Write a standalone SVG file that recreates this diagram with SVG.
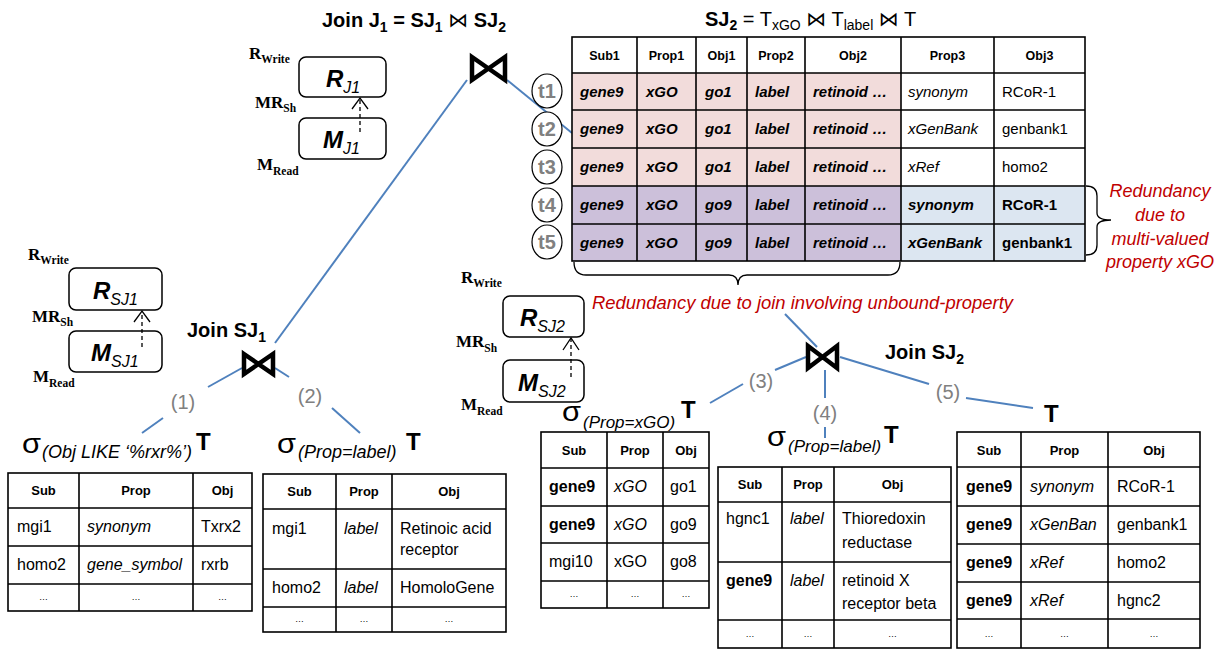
<svg xmlns="http://www.w3.org/2000/svg" width="1222" height="649" viewBox="0 0 1222 649">
<style>
text{font-family:"Liberation Sans",Arial,sans-serif;fill:#000}
.tb{fill:none;stroke:#000;stroke-width:1.6}
.h{font-weight:bold;font-size:12.5px;text-anchor:middle}
.h13{font-weight:bold;font-size:13px;text-anchor:middle}
.bi{font-weight:bold;font-style:italic;font-size:15px}
.c{font-size:15px}
.cs{font-size:16px}
.i{font-style:italic}
.b{font-weight:bold}
.dots{font-size:9px;text-anchor:middle}
.conn{stroke:#4F81BD;stroke-width:2;fill:none}
.bow{fill:none;stroke:#000;stroke-width:4.5;stroke-linejoin:miter}
.num{font-size:20px;fill:#808080;text-anchor:middle}
.red{fill:#C00000;font-style:italic;font-size:18px}
.box{fill:#fff;stroke:#000;stroke-width:1.5}
.tms{font-family:"Liberation Serif","Times New Roman",serif;font-weight:bold;font-size:17px}
.rm{font-weight:bold;font-style:italic;font-size:24px}
.rms{font-style:italic;font-size:16px}
.dash{stroke:#000;stroke-width:1.3;stroke-dasharray:4,3;fill:none}
.head{stroke:#000;stroke-width:1.3;fill:none}
.circ{fill:#fff;stroke:#000;stroke-width:1.2}
.tl{font-weight:bold;font-size:20px;fill:#808080;text-anchor:middle}
.ttl{font-weight:bold;font-size:20px}
.sig{font-size:28px}
.sub{font-style:italic;font-size:18px}
.sub17{font-style:italic;font-size:17px}
.T{font-weight:bold;font-size:24px}
</style>

<g id="connectors">
<line class="conn" x1="467" y1="80" x2="275" y2="343"/>
<line class="conn" x1="507" y1="80" x2="572" y2="133"/>
<line class="conn" x1="242" y1="368" x2="208" y2="387"/>
<line class="conn" x1="163" y1="418" x2="142" y2="433"/>
<line class="conn" x1="275" y1="368" x2="289" y2="377"/>
<line class="conn" x1="332" y1="408" x2="360" y2="433"/>
<line class="conn" x1="785" y1="314" x2="817" y2="347"/>
<line class="conn" x1="806" y1="357" x2="775" y2="370"/>
<line class="conn" x1="743" y1="384" x2="710" y2="403"/>
<line class="conn" x1="825" y1="370" x2="825" y2="398"/>
<line class="conn" x1="825" y1="427" x2="825" y2="438"/>
<line class="conn" x1="840" y1="357" x2="929" y2="384"/>
<line class="conn" x1="966" y1="398" x2="1033" y2="408"/>
<text class="num" x="183" y="409">(1)</text>
<text class="num" x="310" y="403">(2)</text>
<text class="num" x="761" y="388">(3)</text>
<text class="num" x="825" y="420">(4)</text>
<text class="num" x="948" y="399">(5)</text>
</g>

<g id="title-j1">
<text class="ttl" x="322" y="27">Join J<tspan dy="5" font-size="14">1</tspan><tspan dy="-5"> = SJ</tspan><tspan dy="5" font-size="14">1</tspan><tspan dy="-5"> </tspan><tspan font-family="DejaVu Sans" font-weight="normal">⋈</tspan><tspan> SJ</tspan><tspan dy="5" font-size="14">2</tspan></text>
</g>

<g id="join-j1">
<path class="bow" d="M472,57 L505,80 L505,57 L472,80 Z"/>
</g>

<g id="mem-j1">
<text class="tms" x="249" y="59">R<tspan dy="4" font-size="11.5px">Write</tspan></text>
<text class="tms" x="255" y="108">MR<tspan dy="4" font-size="11.5px">Sh</tspan></text>
<text class="tms" x="257" y="170">M<tspan dy="5" font-size="11.5px">Read</tspan></text>
<rect class="box" x="299" y="57" width="87" height="40" rx="7"/>
<rect class="box" x="299" y="118" width="87" height="41" rx="7"/>
<text x="326" y="87"><tspan class="rm">R</tspan><tspan class="rms" dy="6">J1</tspan></text>
<text x="323" y="148"><tspan class="rm">M</tspan><tspan class="rms" dy="6">J1</tspan></text>
<line class="dash" x1="360" y1="132" x2="360" y2="99"/>
<polyline class="head" points="352,109 360,98 368,109"/>
</g>

<g id="sj2-title">
<text x="705" y="26" font-size="20px"><tspan font-weight="bold">SJ</tspan><tspan font-weight="bold" dy="4" font-size="14px">2</tspan><tspan dy="-4"> = T</tspan><tspan dy="4" font-size="14px">xGO</tspan><tspan dy="-4"> </tspan><tspan font-family="DejaVu Sans">⋈</tspan><tspan> T</tspan><tspan dy="4" font-size="14px">label</tspan><tspan dy="-4"> </tspan><tspan font-family="DejaVu Sans">⋈</tspan><tspan> T</tspan></text>
</g>

<g id="sj2-table">
<rect x="572" y="73" width="329" height="113" fill="#F2DCDB"/>
<rect x="572" y="186" width="329" height="75" fill="#CCC0DA"/>
<rect x="901" y="186" width="184" height="75" fill="#DCE6F1"/>
<rect class="tb" x="572" y="37" width="513" height="224"/>
<path class="tb" d="M637,37V261M696,37V261M747,37V261M805,37V261M901,37V261M994,37V261M572,73H1085M572,110H1085M572,148H1085M572,186H1085M572,224H1085"/>
<text class="h" x="604.5" y="60">Sub1</text>
<text class="h" x="666.5" y="60">Prop1</text>
<text class="h" x="721.5" y="60">Obj1</text>
<text class="h" x="776" y="60">Prop2</text>
<text class="h" x="853" y="60">Obj2</text>
<text class="h" x="947.5" y="60">Prop3</text>
<text class="h" x="1039.5" y="60">Obj3</text>
<g class="bi">
<text x="580" y="97">gene9</text><text x="646" y="97">xGO</text><text x="705" y="97">go1</text><text x="755" y="97">label</text><text x="813" y="97">retinoid …</text>
<text x="580" y="134">gene9</text><text x="646" y="134">xGO</text><text x="705" y="134">go1</text><text x="755" y="134">label</text><text x="813" y="134">retinoid …</text>
<text x="580" y="172">gene9</text><text x="646" y="172">xGO</text><text x="705" y="172">go1</text><text x="755" y="172">label</text><text x="813" y="172">retinoid …</text>
<text x="580" y="210">gene9</text><text x="646" y="210">xGO</text><text x="705" y="210">go9</text><text x="755" y="210">label</text><text x="813" y="210">retinoid …</text>
<text x="580" y="248">gene9</text><text x="646" y="248">xGO</text><text x="705" y="248">go9</text><text x="755" y="248">label</text><text x="813" y="248">retinoid …</text>
<text x="908" y="210">synonym</text><text x="908" y="248">xGenBank</text>
</g>
<text class="c i" x="908" y="97">synonym</text><text class="c" x="1002" y="97">RCoR-1</text>
<text class="c i" x="908" y="134">xGenBank</text><text class="c" x="1002" y="134">genbank1</text>
<text class="c i" x="908" y="172">xRef</text><text class="c" x="1002" y="172">homo2</text>
<text class="c b" x="1002" y="210">RCoR-1</text>
<text class="c b" x="1002" y="248">genbank1</text>
<ellipse class="circ" cx="547" cy="91" rx="15" ry="17"/><text class="tl" x="547" y="98">t1</text>
<ellipse class="circ" cx="547" cy="129" rx="15" ry="17"/><text class="tl" x="547" y="136">t2</text>
<ellipse class="circ" cx="547" cy="167" rx="15" ry="17"/><text class="tl" x="547" y="174">t3</text>
<ellipse class="circ" cx="547" cy="205" rx="15" ry="17"/><text class="tl" x="547" y="212">t4</text>
<ellipse class="circ" cx="547" cy="242" rx="15" ry="17"/><text class="tl" x="547" y="249">t5</text>
</g>

<g id="redundancy-xgo">
<path class="head" d="M1086,186 Q1097,186 1097,196 L1097,213 Q1097,220 1111,220 Q1097,220 1097,227 L1097,245 Q1097,255 1086,255"/>
<text class="red" x="1160" y="197" text-anchor="middle">Redundancy</text>
<text class="red" x="1160" y="221" text-anchor="middle">due to</text>
<text class="red" x="1160" y="245" text-anchor="middle">multi-valued</text>
<text class="red" x="1160" y="268" text-anchor="middle">property xGO</text>
</g>

<g id="redundancy-join">
<path class="head" d="M574,262 Q574,275 586,275 L729,275 Q738,275 738,285 Q738,275 747,275 L888,275 Q900,275 900,262"/>
<text class="red" x="592" y="309" textLength="421" lengthAdjust="spacingAndGlyphs">Redundancy due to join involving unbound-property</text>
</g>

<g id="mem-sj1">
<text class="tms" x="28" y="260">R<tspan dy="4" font-size="11.5px">Write</tspan></text>
<text class="tms" x="32" y="322">MR<tspan dy="4" font-size="11.5px">Sh</tspan></text>
<text class="tms" x="33" y="382">M<tspan dy="5" font-size="11.5px">Read</tspan></text>
<rect class="box" x="69" y="268" width="93" height="42" rx="7"/>
<rect class="box" x="69" y="331" width="93" height="41" rx="7"/>
<text x="93" y="299"><tspan class="rm">R</tspan><tspan class="rms" dy="6">SJ1</tspan></text>
<text x="91" y="361"><tspan class="rm">M</tspan><tspan class="rms" dy="6">SJ1</tspan></text>
<line class="dash" x1="142" y1="347" x2="142" y2="312"/>
<polyline class="head" points="134,322 142,311 150,322"/>
</g>

<g id="join-sj1">
<text class="ttl" x="187" y="337">Join SJ<tspan dy="5" font-size="14">1</tspan></text>
<path class="bow" d="M244,354 L273,374 L273,354 L244,374 Z"/>
</g>

<g id="mem-sj2">
<text class="tms" x="461" y="283">R<tspan dy="4" font-size="11.5px">Write</tspan></text>
<text class="tms" x="456" y="347">MR<tspan dy="5" font-size="11.5px">Sh</tspan></text>
<text class="tms" x="461" y="410">M<tspan dy="5" font-size="11.5px">Read</tspan></text>
<rect class="box" x="503" y="296" width="81" height="41" rx="7"/>
<rect class="box" x="503" y="360" width="81" height="42" rx="7"/>
<text x="520" y="326"><tspan class="rm">R</tspan><tspan class="rms" dy="6">SJ2</tspan></text>
<text x="518" y="391"><tspan class="rm">M</tspan><tspan class="rms" dy="6">SJ2</tspan></text>
<line class="dash" x1="571" y1="377" x2="571" y2="339"/>
<polyline class="head" points="563,350 571,338 579,350"/>
</g>

<g id="join-sj2">
<path class="bow" d="M808,346 L837,368 L837,346 L808,368 Z"/>
<text class="ttl" x="885" y="359">Join SJ<tspan dy="5" font-size="14">2</tspan></text>
</g>

<g id="sel-rxr">
<text class="sig" x="22" y="453" textLength="19" lengthAdjust="spacingAndGlyphs">σ</text>
<text class="sub" x="42" y="458">(Obj LIKE ‘%rxr%’)</text>
<text class="T" x="196" y="450">T</text>
<rect class="tb" x="8" y="473" width="244" height="138"/>
<path class="tb" d="M79,473V611M193,473V611M8,508H252M8,546H252M8,584H252"/>
<text class="h13" x="43.5" y="495">Sub</text><text class="h13" x="136" y="495">Prop</text><text class="h13" x="222.5" y="495">Obj</text>
<text class="cs" x="17" y="532">mgi1</text><text class="cs i" x="87" y="532">synonym</text><text class="cs" x="201" y="532">Txrx2</text>
<text class="cs" x="17" y="570">homo2</text><text class="cs i" x="87" y="570">gene_symbol</text><text class="cs" x="201" y="570">rxrb</text>
<text class="dots" x="43.5" y="600">…</text><text class="dots" x="136" y="600">…</text><text class="dots" x="222.5" y="600">…</text>
</g>

<g id="sel-label1">
<text class="sig" x="277" y="453" textLength="19" lengthAdjust="spacingAndGlyphs">σ</text>
<text class="sub" x="298" y="458">(Prop=label)</text>
<text class="T" x="406" y="450">T</text>
<rect class="tb" x="263" y="474" width="243" height="158"/>
<path class="tb" d="M336,474V632M392,474V632M263,509H506M263,569H506M263,607H506"/>
<text class="h13" x="299.5" y="496">Sub</text><text class="h13" x="364" y="496">Prop</text><text class="h13" x="449" y="496">Obj</text>
<text class="cs" x="272" y="534">mgi1</text><text class="cs i" x="344" y="534">label</text><text class="cs" x="400" y="534">Retinoic acid</text><text class="cs" x="400" y="555">receptor</text>
<text class="cs" x="272" y="593">homo2</text><text class="cs i" x="344" y="593">label</text><text class="cs" x="400" y="593">HomoloGene</text>
<text class="dots" x="299.5" y="622">…</text><text class="dots" x="364" y="622">…</text><text class="dots" x="449" y="622">…</text>
</g>

<g id="sel-xgo">
<text class="sig" x="562" y="421" textLength="19" lengthAdjust="spacingAndGlyphs">σ</text>
<text class="sub17" x="583" y="428">(Prop=xGO)</text>
<text class="T" x="681" y="418">T</text>
<rect class="tb" x="541" y="432" width="168" height="176"/>
<path class="tb" d="M607,432V608M663,432V608M541,468H709M541,506H709M541,543H709M541,581H709"/>
<text class="h13" x="574" y="455">Sub</text><text class="h13" x="635" y="455">Prop</text><text class="h13" x="686" y="455">Obj</text>
<text class="cs b" x="549" y="492">gene9</text><text class="cs i" x="614" y="492">xGO</text><text class="cs" x="670" y="492">go1</text>
<text class="cs b" x="549" y="530">gene9</text><text class="cs i" x="614" y="530">xGO</text><text class="cs" x="670" y="530">go9</text>
<text class="cs" x="549" y="567">mgi10</text><text class="cs" x="614" y="567">xGO</text><text class="cs" x="670" y="567">go8</text>
<text class="dots" x="574" y="597">…</text><text class="dots" x="635" y="597">…</text><text class="dots" x="686" y="597">…</text>
</g>

<g id="sel-label2">
<text class="sig" x="767" y="446" textLength="19" lengthAdjust="spacingAndGlyphs">σ</text>
<text class="sub17" x="788" y="452">(Prop=label)</text>
<text class="T" x="884" y="443">T</text>
<rect class="tb" x="718" y="467" width="233" height="181"/>
<path class="tb" d="M782,467V648M834,467V648M718,502H951M718,562H951M718,620H951"/>
<text class="h13" x="750" y="489">Sub</text><text class="h13" x="808" y="489">Prop</text><text class="h13" x="892.5" y="489">Obj</text>
<text class="cs" x="726" y="524">hgnc1</text><text class="cs i" x="790" y="524">label</text><text class="cs" x="842" y="524">Thioredoxin</text><text class="cs" x="842" y="548">reductase</text>
<text class="cs b" x="726" y="586">gene9</text><text class="cs i" x="790" y="586">label</text><text class="cs" x="842" y="586">retinoid X</text><text class="cs" x="842" y="609">receptor beta</text>
<text class="dots" x="750" y="637">…</text><text class="dots" x="808" y="637">…</text><text class="dots" x="892.5" y="637">…</text>
</g>

<g id="table-t">
<text class="T" x="1044" y="422">T</text>
<rect class="tb" x="957" y="432" width="243" height="216"/>
<path class="tb" d="M1021,432V648M1108,432V648M957,467H1200M957,506H1200M957,544H1200M957,582H1200M957,619H1200"/>
<text class="h13" x="989" y="455">Sub</text><text class="h13" x="1064.5" y="455">Prop</text><text class="h13" x="1154" y="455">Obj</text>
<text class="cs b" x="966" y="492">gene9</text><text class="cs i" x="1030" y="492">synonym</text><text class="cs" x="1117" y="492">RCoR-1</text>
<text class="cs b" x="966" y="530">gene9</text><text class="cs i" x="1030" y="530">xGenBan</text><text class="cs" x="1117" y="530">genbank1</text>
<text class="cs b" x="966" y="568">gene9</text><text class="cs i" x="1030" y="568">xRef</text><text class="cs" x="1117" y="568">homo2</text>
<text class="cs b" x="966" y="606">gene9</text><text class="cs i" x="1030" y="606">xRef</text><text class="cs" x="1117" y="606">hgnc2</text>
<text class="dots" x="989" y="637">…</text><text class="dots" x="1064.5" y="637">…</text><text class="dots" x="1154" y="637">…</text>
</g>
</svg>
